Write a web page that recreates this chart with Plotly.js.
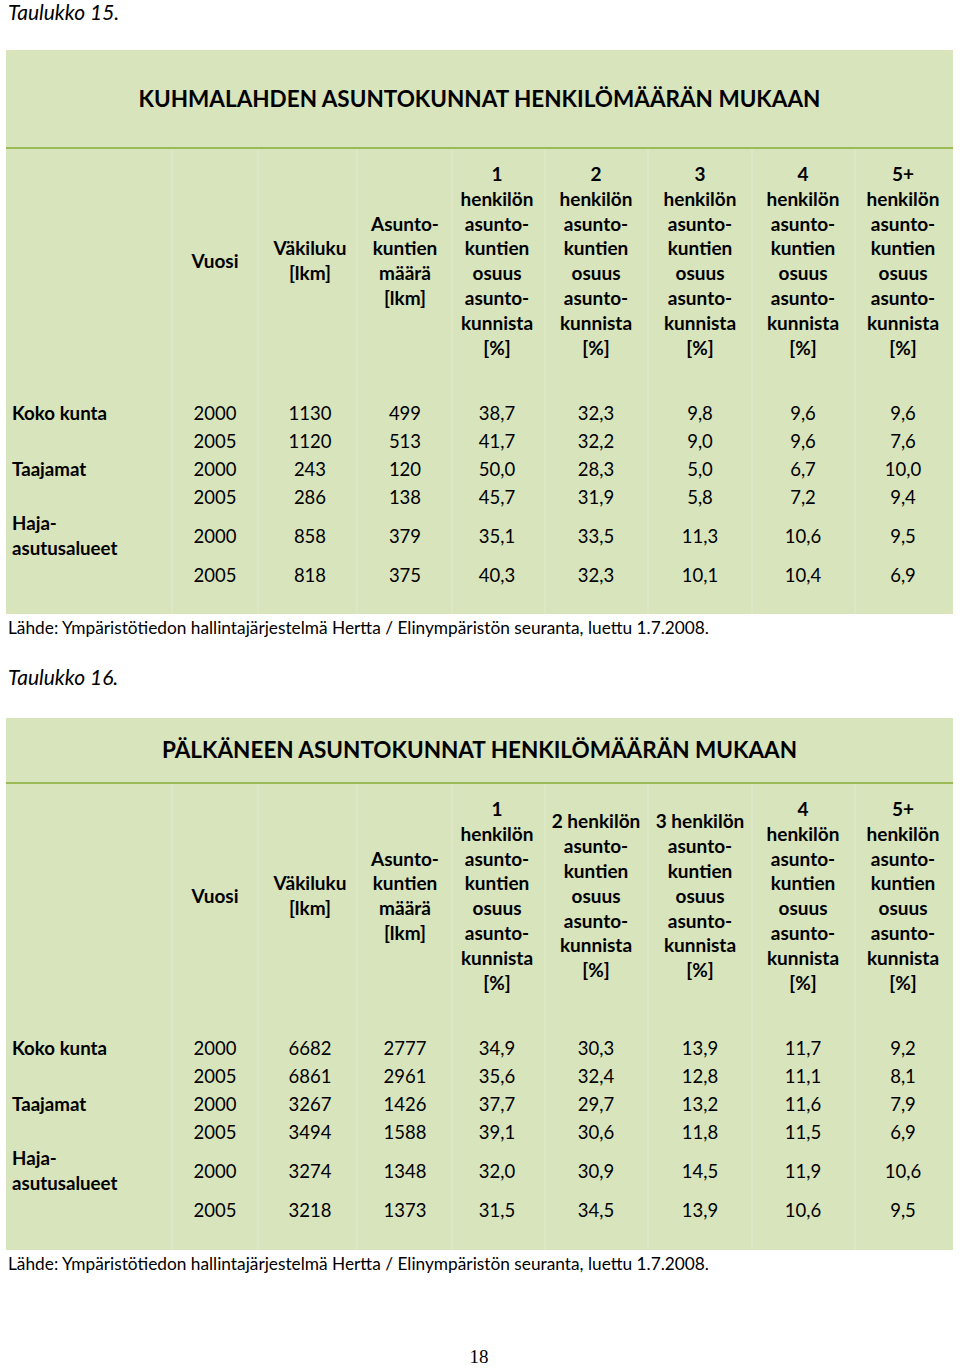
<!DOCTYPE html>
<html>
<head>
<meta charset="utf-8">
<script src="https://cdn.plot.ly/plotly-3.0.1.min.js"></script>
<style>
  html, body { margin: 0; padding: 0; background: #fff; }
  #page { width: 960px; height: 1368px; }
</style>
</head>
<body>
<div id="page"></div>
<script>
// Rivit: alue + vuosi
const regionLabels = [["Koko kunta"], ["Taajamat"], ["Haja-", "asutusalueet"]];
const years = [2000, 2005, 2000, 2005, 2000, 2005];

// Taulukko 15: Kuhmalahti
const kuhVakiluku = [1130, 1120, 243, 286, 858, 818];
const kuhAsuntokunnat = [499, 513, 120, 138, 379, 375];
const kuhOsuus1 = [38.7, 41.7, 50.0, 45.7, 35.1, 40.3];
const kuhOsuus2 = [32.3, 32.2, 28.3, 31.9, 33.5, 32.3];
const kuhOsuus3 = [9.8, 9.0, 5.0, 5.8, 11.3, 10.1];
const kuhOsuus4 = [9.6, 9.6, 6.7, 7.2, 10.6, 10.4];
const kuhOsuus5 = [9.6, 7.6, 10.0, 9.4, 9.5, 6.9];

// Taulukko 16: Pälkäne
const palVakiluku = [6682, 6861, 3267, 3494, 3274, 3218];
const palAsuntokunnat = [2777, 2961, 1426, 1588, 1348, 1373];
const palOsuus1 = [34.9, 35.6, 37.7, 39.1, 32.0, 31.5];
const palOsuus2 = [30.3, 32.4, 29.7, 30.6, 30.9, 34.5];
const palOsuus3 = [13.9, 12.8, 13.2, 11.8, 14.5, 13.9];
const palOsuus4 = [11.7, 11.1, 11.6, 11.5, 11.9, 10.6];
const palOsuus5 = [9.2, 8.1, 7.9, 6.9, 10.6, 9.5];

const headers15 = [
  ["Vuosi"],
  ["Väkiluku", "[lkm]"],
  ["Asunto-", "kuntien", "määrä", "[lkm]"],
  ["1", "henkilön", "asunto-", "kuntien", "osuus", "asunto-", "kunnista", "[%]"],
  ["2", "henkilön", "asunto-", "kuntien", "osuus", "asunto-", "kunnista", "[%]"],
  ["3", "henkilön", "asunto-", "kuntien", "osuus", "asunto-", "kunnista", "[%]"],
  ["4", "henkilön", "asunto-", "kuntien", "osuus", "asunto-", "kunnista", "[%]"],
  ["5+", "henkilön", "asunto-", "kuntien", "osuus", "asunto-", "kunnista", "[%]"]
];
const headers16 = [
  ["Vuosi"],
  ["Väkiluku", "[lkm]"],
  ["Asunto-", "kuntien", "määrä", "[lkm]"],
  ["1", "henkilön", "asunto-", "kuntien", "osuus", "asunto-", "kunnista", "[%]"],
  ["2 henkilön", "asunto-", "kuntien", "osuus", "asunto-", "kunnista", "[%]"],
  ["3 henkilön", "asunto-", "kuntien", "osuus", "asunto-", "kunnista", "[%]"],
  ["4", "henkilön", "asunto-", "kuntien", "osuus", "asunto-", "kunnista", "[%]"],
  ["5+", "henkilön", "asunto-", "kuntien", "osuus", "asunto-", "kunnista", "[%]"]
];

const sourceText = "Lähde: Ympäristötiedon hallintajärjestelmä Hertta / Elinympäristön seuranta, luettu 1.7.2008.";

// geometria
const FONT = "Lato, 'Noto Sans', sans-serif";
const BG = "#d8e4bc";
const RULE = "#9bbb59";
const SEP = "#e1eacd";
const tableLeft = 6, tableRight = 953;
const colEdges = [172, 258, 357, 452, 545, 648, 752, 855];
const colCenters = [215, 310, 405, 497, 596, 700, 803, 903];
const labelX = 12;
const lineGap = 24.8;
const dy0 = 2; // tekstin pystysiirto
const rowOffsets = [265, 293, 321, 349, 388, 427]; // rivit otsikkoviivasta
const rowLabelIdx = [0, 2, 4];

const fmtPct = v => v.toFixed(1).replace(".", ",");

const traces = [];
const shapes = [];

function textTrace(xs, ys, texts, opts) {
  traces.push({
    type: "scatter", mode: "text",
    x: xs, y: ys.map(v => v + dy0), text: texts,
    textposition: opts.pos || "middle center",
    textfont: { family: opts.family || FONT, size: opts.size, color: "#000",
                weight: opts.bold ? "bold" : "normal", style: opts.italic ? "italic" : "normal" },
    hoverinfo: "skip", cliponaxis: false, showlegend: false
  });
}

function drawTable(cfg) {
  const ruleY = cfg.top + cfg.titleBand;
  shapes.push({ type: "rect", xref: "x", yref: "y", x0: tableLeft, x1: tableRight,
    y0: cfg.top, y1: cfg.bottom, fillcolor: BG, line: { width: 0 }, layer: "below" });
  colEdges.forEach(x => shapes.push({ type: "line", xref: "x", yref: "y",
    x0: x, x1: x, y0: ruleY + 1, y1: cfg.bottom, line: { color: SEP, width: 1 }, layer: "below" }));
  shapes.push({ type: "line", xref: "x", yref: "y", x0: tableLeft, x1: tableRight,
    y0: ruleY, y1: ruleY, line: { color: RULE, width: 2 }, layer: "below" });

  textTrace([(tableLeft + tableRight) / 2], [cfg.top + cfg.titleBand / 2], [cfg.title],
    { size: 22.5, bold: true });

  // otsikkorivi
  const hx = [], hy = [], ht = [];
  const hCenter = ruleY + 113;
  cfg.headers.forEach((lines, c) => {
    lines.forEach((ln, i) => {
      hx.push(colCenters[c]);
      hy.push(hCenter + (i - (lines.length - 1) / 2) * lineGap);
      ht.push(ln);
    });
  });
  textTrace(hx, hy, ht, { size: 19, bold: true });

  // aluenimet
  const lx = [], ly = [], lt = [];
  regionLabels.forEach((lines, r) => {
    const yc = ruleY + rowOffsets[rowLabelIdx[r]];
    lines.forEach((ln, i) => {
      lx.push(labelX);
      ly.push(yc + (i - (lines.length - 1) / 2) * lineGap);
      lt.push(ln);
    });
  });
  textTrace(lx, ly, lt, { size: 18.7, bold: true, pos: "middle right" });

  // arvot
  const columns = [years.map(String), cfg.vakiluku.map(String), cfg.asuntokunnat.map(String)]
    .concat(cfg.osuudet.map(arr => arr.map(fmtPct)));
  const dx = [], dy = [], dt = [];
  columns.forEach((col, c) => {
    col.forEach((v, r) => {
      dx.push(colCenters[c]);
      dy.push(ruleY + rowOffsets[r]);
      dt.push(v);
    });
  });
  textTrace(dx, dy, dt, { size: 18.5 });

  textTrace([8], [cfg.bottom + 14], [sourceText], { size: 17.3, pos: "middle right" });
  textTrace([8], [cfg.top - cfg.captionGap], [cfg.caption], { size: 21, italic: true, pos: "middle right" });
}

drawTable({
  top: 50, titleBand: 98, bottom: 614, captionGap: 37,
  caption: "Taulukko 15.",
  title: "KUHMALAHDEN ASUNTOKUNNAT HENKILÖMÄÄRÄN MUKAAN",
  headers: headers15,
  vakiluku: kuhVakiluku, asuntokunnat: kuhAsuntokunnat,
  osuudet: [kuhOsuus1, kuhOsuus2, kuhOsuus3, kuhOsuus4, kuhOsuus5]
});

drawTable({
  top: 718, titleBand: 65, bottom: 1250, captionGap: 40,
  caption: "Taulukko 16.",
  title: "PÄLKÄNEEN ASUNTOKUNNAT HENKILÖMÄÄRÄN MUKAAN",
  headers: headers16,
  vakiluku: palVakiluku, asuntokunnat: palAsuntokunnat,
  osuudet: [palOsuus1, palOsuus2, palOsuus3, palOsuus4, palOsuus5]
});

// sivunumero
textTrace([479], [1356], ["18"], { size: 19, family: "'Liberation Serif', serif" });

const layout = {
  width: 960, height: 1368,
  margin: { t: 0, b: 0, l: 0, r: 0 },
  paper_bgcolor: "#fff", plot_bgcolor: "#fff",
  xaxis: { range: [0, 960], visible: false, fixedrange: true },
  yaxis: { range: [1368, 0], visible: false, fixedrange: true },
  shapes: shapes,
  showlegend: false
};

Plotly.newPlot("page", traces, layout, { displayModeBar: false, staticPlot: true });
</script>
</body>
</html>
